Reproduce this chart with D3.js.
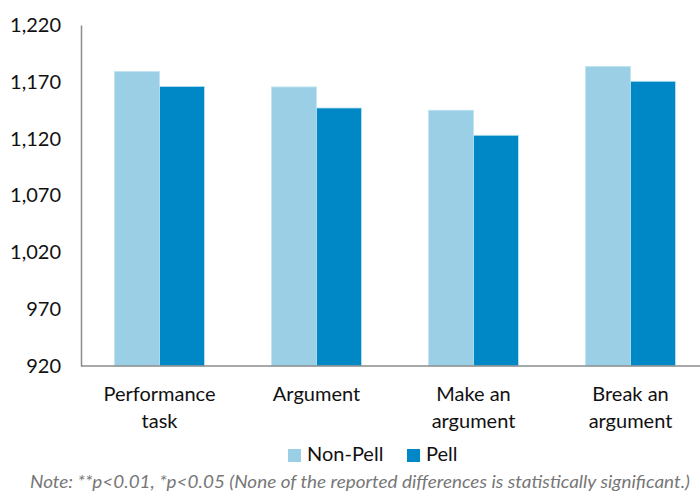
<!DOCTYPE html>
<html><head><meta charset="utf-8">
<script src="https://cdn.jsdelivr.net/npm/d3@7"></script>
<style>
body{margin:0;background:#fff;}
svg text{font-family:Lato, "Open Sans", sans-serif;}
</style></head>
<body><svg id="c" width="700" height="493"></svg>
<script>
const categories = [["Performance","task"],["Argument"],["Make an","argument"],["Break an","argument"]];
const seriesNames = ["Non-Pell","Pell"];
const nonPell = [1179, 1165.5, 1145, 1183.5];
const pell = [1166, 1147, 1123, 1170.5];
const yTicks = [920, 970, 1020, 1070, 1120, 1170, 1220];
const colors = ["#9BCFE6", "#0088C6"];
const note = "Note: **p<0.01, *p<0.05 (None of the reported differences is statistically significant.)";

(function(){
const svg = d3.select("#c");
const mLeft = 81, mRight = 709, mTop = 25, mBottom = 366;
const catIdx = categories.map((d,i)=>i);
const x0 = d3.scaleBand().domain(catIdx).range([mLeft,mRight]).paddingInner(0.427).paddingOuter(0.2135);
const x1 = d3.scaleBand().domain(seriesNames).range([0,x0.bandwidth()]);
const y = d3.scaleLinear().domain([920,1220]).range([mBottom,mTop]);
const values = [nonPell, pell];

seriesNames.forEach((s,si)=>{
  svg.append("g").selectAll("rect").data(values[si]).join("rect")
    .attr("x",(d,i)=>x0(i)+x1(s))
    .attr("y",d=>y(d))
    .attr("width",x1.bandwidth())
    .attr("height",d=>mBottom-y(d))
    .attr("fill",colors[si])
    .attr("stroke","#bfe3f2").attr("stroke-width",0.8);
});

const ya = d3.axisLeft(y).tickValues(yTicks).tickSize(0).tickPadding(20).tickFormat(d3.format(","));
const gy = svg.append("g").attr("transform",`translate(${mLeft},0)`).call(ya);
gy.select(".domain").attr("stroke","#8c8c8c").attr("stroke-width",1.5);
gy.selectAll("text").attr("font-size",20).attr("fill","#111").attr("font-family","Lato, 'Open Sans', sans-serif");

svg.append("line").attr("x1",mLeft).attr("x2",700).attr("y1",mBottom).attr("y2",mBottom)
  .attr("stroke","#8c8c8c").attr("stroke-width",1.5);
const xl = svg.append("g").selectAll("text").data(categories).join("text")
  .attr("x",(d,i)=>x0(i)+x0.bandwidth()/2).attr("y",401)
  .attr("text-anchor","middle").attr("font-size",20).attr("fill","#111");
xl.selectAll("tspan").data(d=>d).join("tspan")
  .attr("x",function(){return this.parentNode.getAttribute("x");})
  .attr("dy",(d,i)=>i===0?0:27).text(d=>d);

const legX = [288, 407];
seriesNames.forEach((s,si)=>{
  svg.append("rect").attr("x",legX[si]).attr("y",449).attr("width",13).attr("height",13).attr("fill",colors[si]);
  svg.append("text").attr("x",legX[si]+19).attr("y",461).attr("font-size",20).attr("fill","#111").text(s);
});

svg.append("text").attr("x",30).attr("y",488).attr("font-size",17.5).attr("font-style","italic")
  .attr("textLength",660).attr("lengthAdjust","spacingAndGlyphs")
  .attr("fill","#777").text(note);
})();
</script></body></html>
